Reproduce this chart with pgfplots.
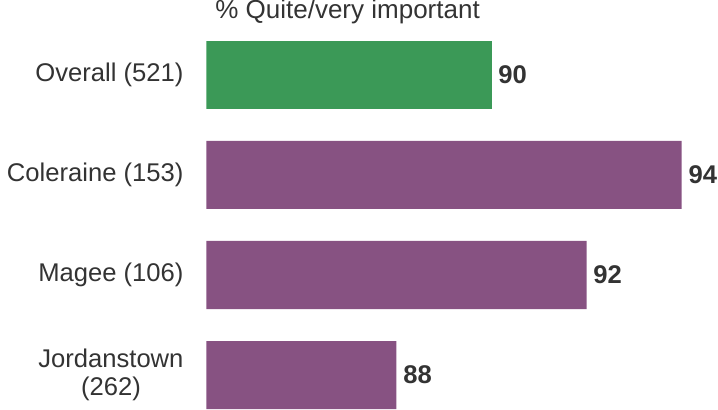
\documentclass[border={5.25pt 0pt 0.75pt 0pt}]{standalone}
\usepackage{pgfplots}
\pgfplotsset{compat=1.18}
\usepackage{fontspec}
\setmainfont{Liberation Sans}
\definecolor{cgreen}{RGB}{59,153,87}
\definecolor{cpurple}{RGB}{135,82,130}
\definecolor{ctext}{RGB}{51,51,51}
\begin{document}
\begin{tikzpicture}
\begin{axis}[
  scale only axis,
  width=356.25pt, height=288pt,
  xmin=84, xmax=94,
  ymin=-0.5, ymax=3.34,
  y dir=reverse,
  xbar, bar shift=0pt, bar width=0.68,
  axis line style={draw=none},
  tick style={draw=none},
  major tick length=0pt,
  xtick=\empty,
  ytick={0,1,2,3},
  yticklabels={Overall (521),Coleraine (153),Magee (106),{Jordanstown\\(262)}},
  yticklabel style={align=center, inner sep=0pt, xshift=-17pt, text=ctext,
    font=\fontsize{19.2}{21}\selectfont},
  /pgf/number format/assume math mode=true,
  nodes near coords,
  every node near coord/.append style={anchor=west, inner sep=0pt, xshift=5pt,
    text=ctext, font=\fontsize{19.2}{21}\selectfont\bfseries},
  title={\% Quite/very important},
  title style={at={(0.297,0.995)}, anchor=base, inner sep=0pt, text=ctext,
    font=\fontsize{19.5}{22}\selectfont},
]
\addplot[draw=none, fill=cgreen] coordinates {(90,0)};
\addplot[draw=none, fill=cpurple] coordinates {(94,1) (92,2) (88,3)};
\end{axis}
\end{tikzpicture}
\end{document}
